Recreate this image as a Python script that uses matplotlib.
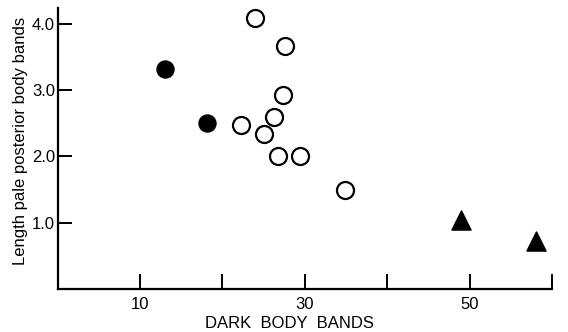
import matplotlib
matplotlib.use("Agg")
import matplotlib.pyplot as plt

# dark body bands vs length of pale posterior body bands
filled_x = [13.0, 18.1]
filled_y = [3.32, 2.50]

open_x = [24.0, 27.6, 27.4, 26.3, 22.3, 25.0, 26.8, 29.4, 34.9]
open_y = [4.09, 3.66, 2.93, 2.60, 2.48, 2.34, 2.00, 2.00, 1.49]

tri_x = [49.0, 58.1]
tri_y = [1.04, 0.73]

xticks = [10, 20, 30, 40, 50, 60]
xticklabels = ["10", "", "30", "", "50", ""]
yticks = [1.0, 2.0, 3.0, 4.0]
yticklabels = ["1.0", "2.0", "3.0", "4.0"]

plt.rcParams['font.family'] = ['Liberation Sans', 'DejaVu Sans']

fig = plt.figure(figsize=(5.68, 3.32), dpi=100)
ax = fig.add_axes([0.1014, 0.1295, 0.8706, 0.8465])

ax.scatter(filled_x, filled_y, s=150, c='black', marker='o', zorder=3)
ax.scatter(open_x, open_y, s=150, facecolors='white', edgecolors='black',
           linewidths=1.6, marker='o', zorder=3)
ax.scatter(tri_x, tri_y, s=190, c='black', marker='^', zorder=3)

ax.set_xlim(0, 60)
ax.set_ylim(0, 4.24)
ax.set_xticks(xticks)
ax.set_xticklabels(xticklabels)
ax.set_yticks(yticks)
ax.set_yticklabels(yticklabels)

for s in ['top', 'right']:
    ax.spines[s].set_visible(False)
for s in ['left', 'bottom']:
    ax.spines[s].set_linewidth(1.6)

ax.tick_params(axis='x', direction='in', length=11, width=1.4, pad=6,
               labelsize=12)
ax.tick_params(axis='y', direction='in', length=10, width=1.4, pad=2,
               labelsize=12)

ax.set_xlabel("DARK  BODY  BANDS", fontsize=12)
ax.xaxis.set_label_coords(0.468, -0.097)
ax.set_ylabel("Length pale posterior body bands", fontsize=12)
ax.yaxis.set_label_coords(-0.060, 0.527)

plt.savefig("out.png", dpi=100)
